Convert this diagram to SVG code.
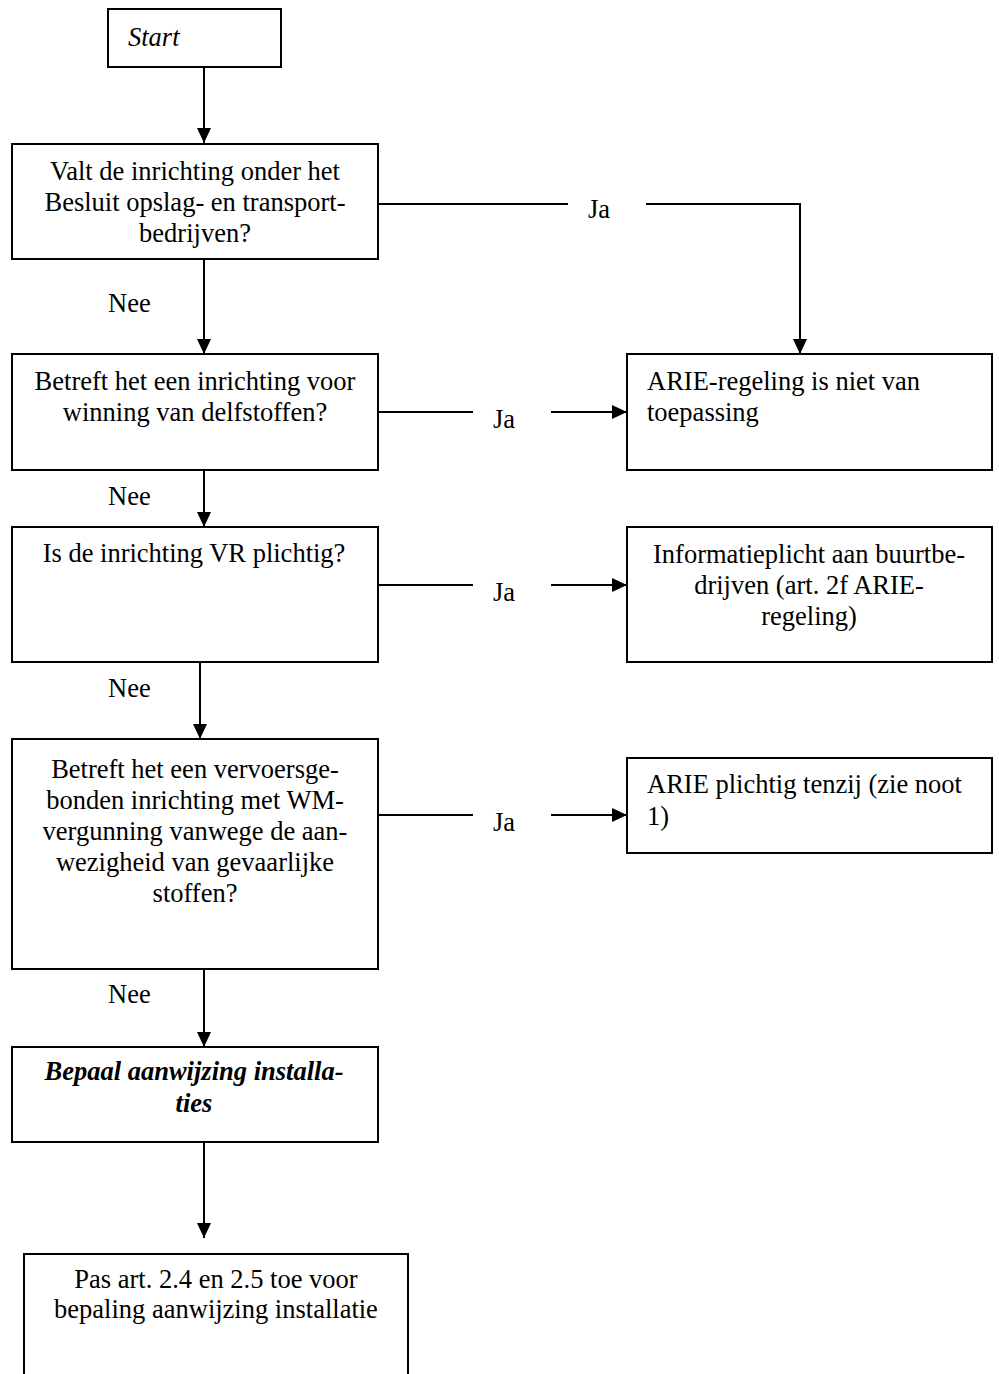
<svg xmlns="http://www.w3.org/2000/svg" width="999" height="1374" viewBox="0 0 999 1374">
<style>
.box{fill:#fff;stroke:#000;stroke-width:2}
.t{font-family:"Liberation Serif","Times New Roman",serif;font-size:26.5px;fill:#000}
.c{text-anchor:middle}
.ln{fill:none;stroke:#000;stroke-width:2}
</style>
<defs>
<marker id="ah" markerUnits="userSpaceOnUse" markerWidth="16" markerHeight="14" refX="15" refY="7" orient="auto">
<path d="M0,0 L15,7 L0,14 Z" fill="#000"/>
</marker>
</defs>
<rect width="999" height="1374" fill="#fff"/>
<g id="connectors">
<line class="ln" x1="204" y1="67" x2="204" y2="143" marker-end="url(#ah)"/>
<polyline class="ln" points="378,204 568,204"/>
<polyline class="ln" points="646,204 800,204 800,354" marker-end="url(#ah)"/>
<line class="ln" x1="204" y1="259" x2="204" y2="354" marker-end="url(#ah)"/>
<line class="ln" x1="378" y1="412" x2="473" y2="412"/>
<line class="ln" x1="551" y1="412" x2="627" y2="412" marker-end="url(#ah)"/>
<line class="ln" x1="204" y1="470" x2="204" y2="527" marker-end="url(#ah)"/>
<line class="ln" x1="378" y1="585" x2="473" y2="585"/>
<line class="ln" x1="551" y1="585" x2="627" y2="585" marker-end="url(#ah)"/>
<line class="ln" x1="200" y1="662" x2="200" y2="739" marker-end="url(#ah)"/>
<line class="ln" x1="378" y1="815" x2="473" y2="815"/>
<line class="ln" x1="551" y1="815" x2="627" y2="815" marker-end="url(#ah)"/>
<line class="ln" x1="204" y1="969" x2="204" y2="1047" marker-end="url(#ah)"/>
<line class="ln" x1="204" y1="1142" x2="204" y2="1238" marker-end="url(#ah)"/>
<text class="t" x="588" y="218">Ja</text>
<text class="t" x="493" y="428">Ja</text>
<text class="t" x="493" y="601">Ja</text>
<text class="t" x="493" y="831">Ja</text>
<text class="t" x="108" y="312">Nee</text>
<text class="t" x="108" y="505">Nee</text>
<text class="t" x="108" y="697">Nee</text>
<text class="t" x="108" y="1003">Nee</text>
</g>
<g id="start">
<rect class="box" x="108" y="9" width="173" height="58"/>
<text class="t" x="128" y="46" font-style="italic">Start</text>
</g>
<g id="q1">
<rect class="box" x="12" y="144" width="366" height="115"/>
<text class="t c" x="195" y="180">Valt de inrichting onder het</text>
<text class="t c" x="195" y="211">Besluit opslag- en transport-</text>
<text class="t c" x="195" y="242">bedrijven?</text>
</g>
<g id="q2">
<rect class="box" x="12" y="354" width="366" height="116"/>
<text class="t c" x="195" y="390">Betreft het een inrichting voor</text>
<text class="t c" x="195" y="421">winning van delfstoffen?</text>
</g>
<g id="r1">
<rect class="box" x="627" y="354" width="365" height="116"/>
<text class="t" x="647" y="390">ARIE-regeling is niet van</text>
<text class="t" x="647" y="421">toepassing</text>
</g>
<g id="q3">
<rect class="box" x="12" y="527" width="366" height="135"/>
<text class="t c" x="194" y="562">Is de inrichting VR plichtig?</text>
</g>
<g id="r2">
<rect class="box" x="627" y="527" width="365" height="135"/>
<text class="t c" x="809" y="563">Informatieplicht aan buurtbe-</text>
<text class="t c" x="809" y="594">drijven (art. 2f ARIE-</text>
<text class="t c" x="809" y="625">regeling)</text>
</g>
<g id="q4">
<rect class="box" x="12" y="739" width="366" height="230"/>
<text class="t c" x="195" y="778">Betreft het een vervoersge-</text>
<text class="t c" x="195" y="809">bonden inrichting met WM-</text>
<text class="t c" x="195" y="840">vergunning vanwege de aan-</text>
<text class="t c" x="195" y="871">wezigheid van gevaarlijke</text>
<text class="t c" x="195" y="902">stoffen?</text>
</g>
<g id="r3">
<rect class="box" x="627" y="758" width="365" height="95"/>
<text class="t" x="647" y="793">ARIE plichtig tenzij (zie noot</text>
<text class="t" x="647" y="825">1)</text>
</g>
<g id="b1">
<rect class="box" x="12" y="1047" width="366" height="95"/>
<text class="t c" x="194" y="1080" font-weight="bold" font-style="italic">Bepaal aanwijzing installa-</text>
<text class="t c" x="194" y="1112" font-weight="bold" font-style="italic">ties</text>
</g>
<g id="b2">
<rect class="box" x="24" y="1254" width="384" height="200"/>
<text class="t c" x="216" y="1288">Pas art. 2.4 en 2.5 toe voor</text>
<text class="t c" x="216" y="1318">bepaling aanwijzing installatie</text>
</g>
</svg>
